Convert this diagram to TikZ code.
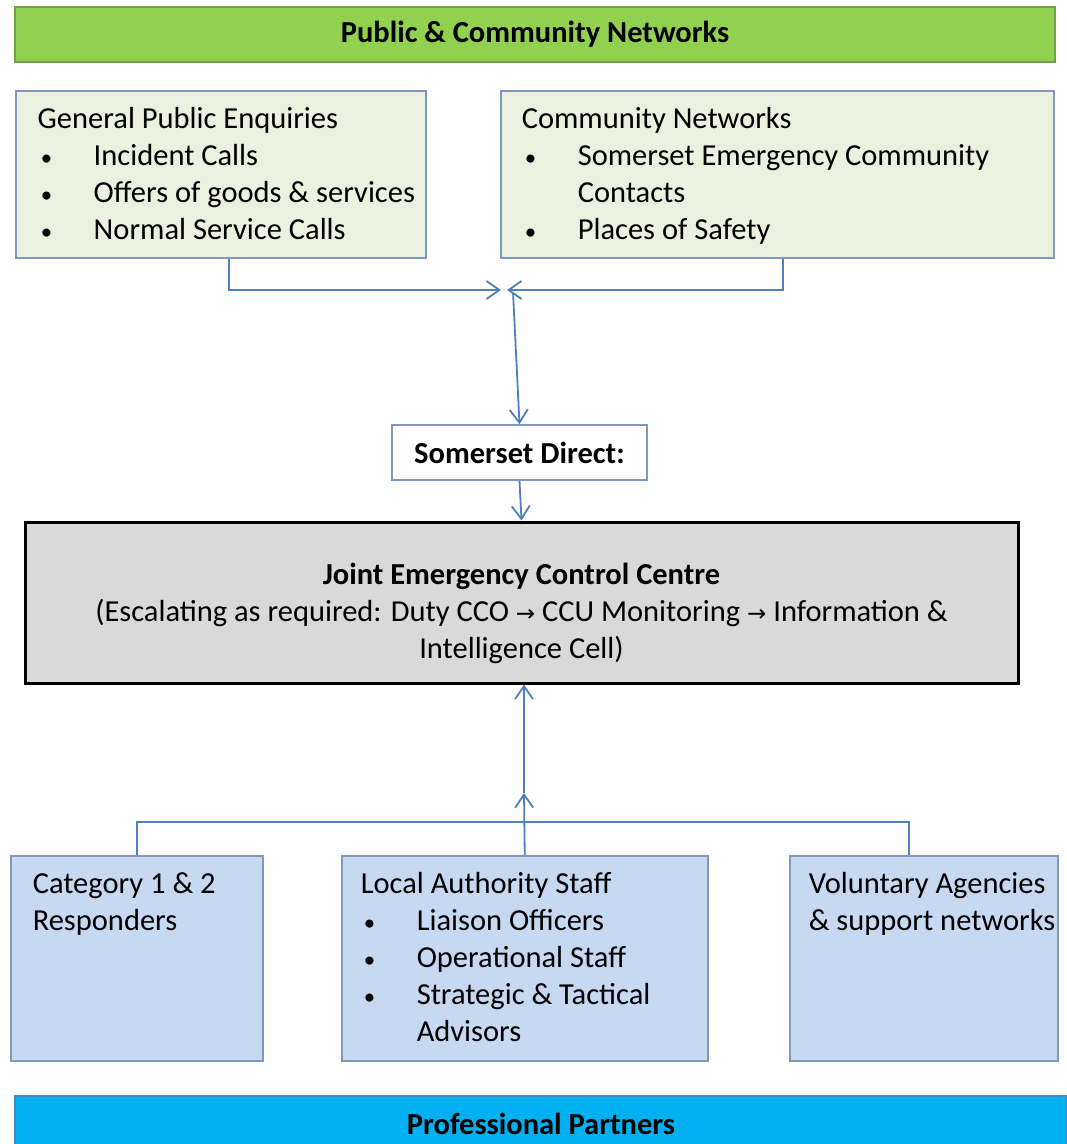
\documentclass[tikz,border=0pt]{standalone}
\usepackage{fontspec}
\setmainfont{Carlito}
\newfontfamily\arrowfont{DejaVu Sans}
\usetikzlibrary{arrows.meta}

\definecolor{barGreen}{HTML}{92D050}
\definecolor{barGreenLine}{HTML}{71A046}
\definecolor{paleGreen}{HTML}{EBF1DE}
\definecolor{paleBlue}{HTML}{C6D9F1}
\definecolor{boxLine}{HTML}{7F99BE}
\definecolor{barBlue}{HTML}{00B0F0}
\definecolor{barBlueLine}{HTML}{3C8DC0}
\definecolor{linkBlue}{HTML}{4F7FBC}
\definecolor{centreGrey}{HTML}{D9D9D9}

% box text: height, width, left indent, lines
\newcommand{\boxtext}[4]{\parbox[c][#1][t]{#2}{\raggedright\leftskip=#3\vspace*{12pt}\strut#4}}
\newcommand{\bul}[1]{\par\makebox[56pt][l]{\hspace*{3pt}\scalebox{0.75}{\textbullet}}#1}
\newcommand{\cont}[1]{\par\hspace*{56pt}#1}
\newcommand{\toarrow}{{\arrowfont\fontsize{23}{37}\selectfont →}}

\tikzset{
  every node/.style={font=\fontsize{30.5}{37}\selectfont, inner sep=0pt},
  bar/.style={draw, line width=1.2pt},
  gbox/.style={draw=boxLine, fill=paleGreen, line width=1.5pt, anchor=north west},
  bbox/.style={draw=boxLine, fill=paleBlue, line width=1.5pt, anchor=north west},
  link/.style={linkBlue, line width=1.8pt, -{Straight Barb[length=13pt,width=18pt,line width=1.8pt]}},
  plain/.style={linkBlue, line width=1.8pt}
}

\begin{document}
\begin{tikzpicture}[x=1pt,y=-1pt]
\useasboundingbox (0,0) rectangle (1067,1144);
% top and bottom bars
\node[bar, draw=barGreenLine, fill=barGreen, minimum width=1040pt, minimum height=55pt] (pcn) at (535,34.5) {\bfseries Public \& Community Networks};
\node[bar, draw=barBlueLine, fill=barBlue, minimum width=1052pt, minimum height=56pt] (pp) at (541,1124) {\bfseries Professional Partners};
% public side
\node[gbox] (gpe) at (15,90) {\boxtext{167pt}{410pt}{22pt}{General Public Enquiries
  \bul{Incident Calls}\bul{Offers of goods \& services}\bul{Normal Service Calls}}};
\node[gbox] (cn) at (500,90) {\boxtext{167pt}{553pt}{21pt}{Community Networks
  \bul{Somerset Emergency Community}\cont{Contacts}\bul{Places of Safety}}};
\coordinate (hubL) at (501,290);
\coordinate (hubR) at (507,290);
\coordinate (hub) at (513,292);
\draw[link] ([xshift=8pt]gpe.south) |- (hubL);
\draw[link] ([xshift=6pt]cn.south) |- (hubR);
% centre
\node[draw=boxLine, fill=white, line width=1.5pt, minimum width=255pt, minimum height=55pt] (sd) at (519.5,452.5) {\bfseries Somerset Direct:};
\node[draw=black, fill=centreGrey, line width=3pt] (jecc) at (521.5,602.5)
  {\parbox[c][161pt][t]{993pt}{\centering\vspace*{37pt}\strut\bfseries Joint Emergency Control Centre\par
  \mdseries (Escalating as required: Duty CCO \toarrow{} CCU Monitoring \toarrow{} Information \&\par Intelligence Cell)}};
\draw[link] (hub) -- (sd.north);
\draw[link] (sd.south) -- (jecc.north);
% professional side
\node[bbox] (cat) at (10,855) {\boxtext{205pt}{252pt}{22pt}{Category 1 \& 2\par Responders}};
\node[bbox] (las) at (341,855) {\boxtext{205pt}{366pt}{19pt}{Local Authority Staff
  \bul{Liaison Officers}\bul{Operational Staff}\bul{Strategic \& Tactical}\cont{Advisors}}};
\node[bbox] (vol) at (789,855) {\boxtext{205pt}{268pt}{19pt}{Voluntary Agencies\par \& support networks}};
\coordinate (tipmid) at (524,793);
\draw[plain] (cat.north) -- ++(0,-33) -| ([xshift=-15pt]vol.north);
\draw[link] (las.north) -- (tipmid);
\draw[link] (tipmid) -- (tipmid |- jecc.south);
\end{tikzpicture}
\end{document}
